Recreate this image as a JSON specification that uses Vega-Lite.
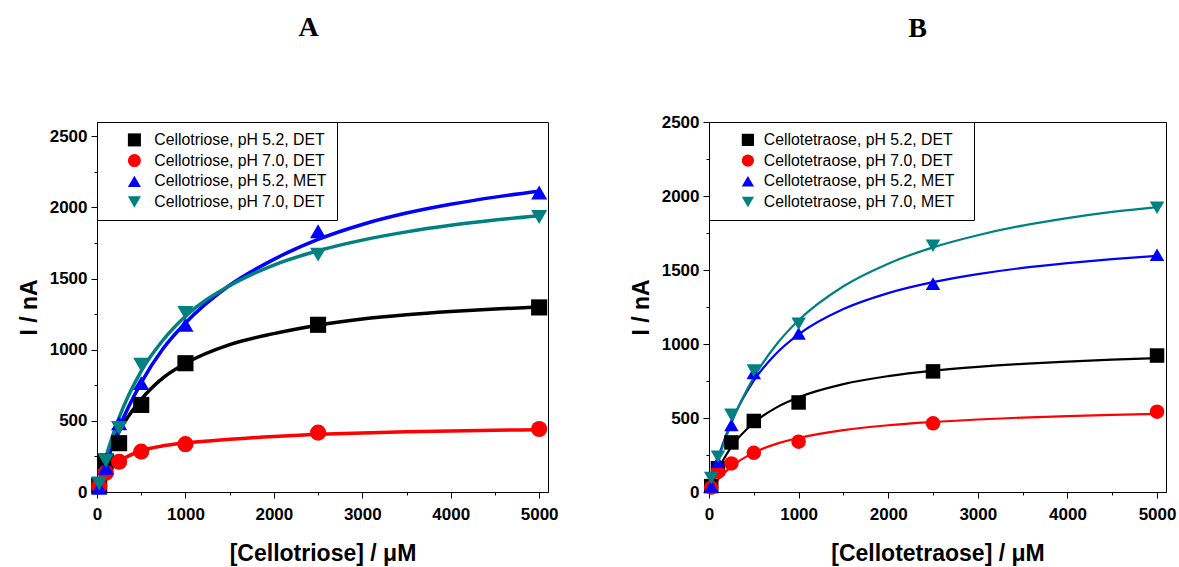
{
  "$schema": "https://vega.github.io/schema/vega-lite/v6.json",
  "background": "white",
  "autosize": {"type": "pad"},
  "padding": {"left": 17, "top": 13, "right": 5, "bottom": 5},
  "spacing": 70,
  "config": {
    "font": "Liberation Sans",
    "view": {"stroke": "black", "strokeWidth": 1},
    "axis": {
      "grid": false, "domainColor": "black", "domainWidth": 1, "tickColor": "black", "tickWidth": 1,
      "labelColor": "black", "labelFont": "Liberation Sans", "labelFontWeight": "bold", "labelFontSize": 17,
      "titleColor": "black", "titleFont": "Liberation Sans", "titleFontWeight": "bold", "titleFontSize": 23,
      "labelOverlap": false, "labelFlush": false
    },
    "title": {"font": "Liberation Serif", "fontSize": 28, "fontWeight": "bold", "color": "black", "anchor": "middle"}
  },
  "datasets": {
    "curveA": [
      {"c":0,"i":0,"s":"pH 5.2, DET"},{"c":50,"i":111,"s":"pH 5.2, DET"},{"c":100,"i":206,"s":"pH 5.2, DET"},{"c":250,"i":424,"s":"pH 5.2, DET"},{"c":500,"i":650,"s":"pH 5.2, DET"},{"c":750,"i":803,"s":"pH 5.2, DET"},{"c":1000,"i":903,"s":"pH 5.2, DET"},{"c":1500,"i":1035,"s":"pH 5.2, DET"},{"c":2000,"i":1113,"s":"pH 5.2, DET"},{"c":2500,"i":1172,"s":"pH 5.2, DET"},{"c":3000,"i":1215,"s":"pH 5.2, DET"},{"c":3500,"i":1245,"s":"pH 5.2, DET"},{"c":4000,"i":1268,"s":"pH 5.2, DET"},{"c":4500,"i":1286,"s":"pH 5.2, DET"},{"c":5000,"i":1300,"s":"pH 5.2, DET"},
      {"c":0,"i":0,"s":"pH 7.0, DET"},{"c":50,"i":75,"s":"pH 7.0, DET"},{"c":100,"i":135,"s":"pH 7.0, DET"},{"c":250,"i":215,"s":"pH 7.0, DET"},{"c":500,"i":290,"s":"pH 7.0, DET"},{"c":750,"i":325,"s":"pH 7.0, DET"},{"c":1000,"i":344,"s":"pH 7.0, DET"},{"c":1500,"i":370,"s":"pH 7.0, DET"},{"c":2000,"i":390,"s":"pH 7.0, DET"},{"c":2500,"i":405,"s":"pH 7.0, DET"},{"c":3000,"i":415,"s":"pH 7.0, DET"},{"c":3500,"i":423,"s":"pH 7.0, DET"},{"c":4000,"i":429,"s":"pH 7.0, DET"},{"c":4500,"i":434,"s":"pH 7.0, DET"},{"c":5000,"i":438,"s":"pH 7.0, DET"},
      {"c":0,"i":0,"s":"pH 5.2, MET"},{"c":50,"i":104,"s":"pH 5.2, MET"},{"c":100,"i":200,"s":"pH 5.2, MET"},{"c":250,"i":450,"s":"pH 5.2, MET"},{"c":500,"i":768,"s":"pH 5.2, MET"},{"c":750,"i":1010,"s":"pH 5.2, MET"},{"c":1000,"i":1188,"s":"pH 5.2, MET"},{"c":1500,"i":1453,"s":"pH 5.2, MET"},{"c":2000,"i":1635,"s":"pH 5.2, MET"},{"c":2500,"i":1775,"s":"pH 5.2, MET"},{"c":3000,"i":1880,"s":"pH 5.2, MET"},{"c":3500,"i":1960,"s":"pH 5.2, MET"},{"c":4000,"i":2022,"s":"pH 5.2, MET"},{"c":4500,"i":2072,"s":"pH 5.2, MET"},{"c":5000,"i":2113,"s":"pH 5.2, MET"},
      {"c":0,"i":0,"s":"pH 7.0, MET"},{"c":50,"i":128,"s":"pH 7.0, MET"},{"c":100,"i":243,"s":"pH 7.0, MET"},{"c":250,"i":523,"s":"pH 7.0, MET"},{"c":500,"i":850,"s":"pH 7.0, MET"},{"c":750,"i":1070,"s":"pH 7.0, MET"},{"c":1000,"i":1235,"s":"pH 7.0, MET"},{"c":1500,"i":1450,"s":"pH 7.0, MET"},{"c":2000,"i":1595,"s":"pH 7.0, MET"},{"c":2500,"i":1695,"s":"pH 7.0, MET"},{"c":3000,"i":1770,"s":"pH 7.0, MET"},{"c":3500,"i":1828,"s":"pH 7.0, MET"},{"c":4000,"i":1874,"s":"pH 7.0, MET"},{"c":4500,"i":1911,"s":"pH 7.0, MET"},{"c":5000,"i":1942,"s":"pH 7.0, MET"}
    ],
    "ptsA": [
      {"c":25,"i":45,"s":"pH 5.2, DET"},{"c":100,"i":215,"s":"pH 5.2, DET"},{"c":250,"i":343,"s":"pH 5.2, DET"},{"c":500,"i":612,"s":"pH 5.2, DET"},{"c":1000,"i":905,"s":"pH 5.2, DET"},{"c":2500,"i":1175,"s":"pH 5.2, DET"},{"c":5000,"i":1297,"s":"pH 5.2, DET"},
      {"c":25,"i":40,"s":"pH 7.0, DET"},{"c":100,"i":135,"s":"pH 7.0, DET"},{"c":250,"i":213,"s":"pH 7.0, DET"},{"c":500,"i":284,"s":"pH 7.0, DET"},{"c":1000,"i":336,"s":"pH 7.0, DET"},{"c":2500,"i":417,"s":"pH 7.0, DET"},{"c":5000,"i":443,"s":"pH 7.0, DET"},
      {"c":25,"i":30,"s":"pH 5.2, MET"},{"c":100,"i":170,"s":"pH 5.2, MET"},{"c":250,"i":483,"s":"pH 5.2, MET"},{"c":500,"i":765,"s":"pH 5.2, MET"},{"c":1000,"i":1175,"s":"pH 5.2, MET"},{"c":2500,"i":1832,"s":"pH 5.2, MET"},{"c":5000,"i":2104,"s":"pH 5.2, MET"},
      {"c":25,"i":60,"s":"pH 7.0, MET"},{"c":100,"i":220,"s":"pH 7.0, MET"},{"c":250,"i":450,"s":"pH 7.0, MET"},{"c":500,"i":894,"s":"pH 7.0, MET"},{"c":1000,"i":1258,"s":"pH 7.0, MET"},{"c":2500,"i":1668,"s":"pH 7.0, MET"},{"c":5000,"i":1933,"s":"pH 7.0, MET"}
    ],
    "curveB": [
      {"c":0,"i":0,"s":"pH 5.2, DET"},{"c":50,"i":81,"s":"pH 5.2, DET"},{"c":100,"i":149,"s":"pH 5.2, DET"},{"c":250,"i":305,"s":"pH 5.2, DET"},{"c":500,"i":468,"s":"pH 5.2, DET"},{"c":750,"i":570,"s":"pH 5.2, DET"},{"c":1000,"i":640,"s":"pH 5.2, DET"},{"c":1500,"i":729,"s":"pH 5.2, DET"},{"c":2000,"i":783,"s":"pH 5.2, DET"},{"c":2500,"i":820,"s":"pH 5.2, DET"},{"c":3000,"i":846,"s":"pH 5.2, DET"},{"c":3500,"i":866,"s":"pH 5.2, DET"},{"c":4000,"i":881,"s":"pH 5.2, DET"},{"c":4500,"i":894,"s":"pH 5.2, DET"},{"c":5000,"i":905,"s":"pH 5.2, DET"},
      {"c":0,"i":0,"s":"pH 7.0, DET"},{"c":50,"i":45,"s":"pH 7.0, DET"},{"c":100,"i":84,"s":"pH 7.0, DET"},{"c":250,"i":172,"s":"pH 7.0, DET"},{"c":500,"i":266,"s":"pH 7.0, DET"},{"c":750,"i":325,"s":"pH 7.0, DET"},{"c":1000,"i":365,"s":"pH 7.0, DET"},{"c":1500,"i":418,"s":"pH 7.0, DET"},{"c":2000,"i":451,"s":"pH 7.0, DET"},{"c":2500,"i":473,"s":"pH 7.0, DET"},{"c":3000,"i":490,"s":"pH 7.0, DET"},{"c":3500,"i":503,"s":"pH 7.0, DET"},{"c":4000,"i":513,"s":"pH 7.0, DET"},{"c":4500,"i":521,"s":"pH 7.0, DET"},{"c":5000,"i":528,"s":"pH 7.0, DET"},
      {"c":0,"i":0,"s":"pH 5.2, MET"},{"c":50,"i":120,"s":"pH 5.2, MET"},{"c":100,"i":225,"s":"pH 5.2, MET"},{"c":250,"i":474,"s":"pH 5.2, MET"},{"c":500,"i":752,"s":"pH 5.2, MET"},{"c":750,"i":936,"s":"pH 5.2, MET"},{"c":1000,"i":1065,"s":"pH 5.2, MET"},{"c":1500,"i":1236,"s":"pH 5.2, MET"},{"c":2000,"i":1344,"s":"pH 5.2, MET"},{"c":2500,"i":1418,"s":"pH 5.2, MET"},{"c":3000,"i":1472,"s":"pH 5.2, MET"},{"c":3500,"i":1514,"s":"pH 5.2, MET"},{"c":4000,"i":1546,"s":"pH 5.2, MET"},{"c":4500,"i":1573,"s":"pH 5.2, MET"},{"c":5000,"i":1595,"s":"pH 5.2, MET"},
      {"c":0,"i":0,"s":"pH 7.0, MET"},{"c":50,"i":111,"s":"pH 7.0, MET"},{"c":100,"i":212,"s":"pH 7.0, MET"},{"c":250,"i":466,"s":"pH 7.0, MET"},{"c":500,"i":775,"s":"pH 7.0, MET"},{"c":750,"i":995,"s":"pH 7.0, MET"},{"c":1000,"i":1160,"s":"pH 7.0, MET"},{"c":1500,"i":1390,"s":"pH 7.0, MET"},{"c":2000,"i":1543,"s":"pH 7.0, MET"},{"c":2500,"i":1653,"s":"pH 7.0, MET"},{"c":3000,"i":1735,"s":"pH 7.0, MET"},{"c":3500,"i":1800,"s":"pH 7.0, MET"},{"c":4000,"i":1851,"s":"pH 7.0, MET"},{"c":4500,"i":1893,"s":"pH 7.0, MET"},{"c":5000,"i":1925,"s":"pH 7.0, MET"}
    ],
    "ptsB": [
      {"c":25,"i":40,"s":"pH 5.2, DET"},{"c":100,"i":160,"s":"pH 5.2, DET"},{"c":250,"i":335,"s":"pH 5.2, DET"},{"c":500,"i":480,"s":"pH 5.2, DET"},{"c":1000,"i":605,"s":"pH 5.2, DET"},{"c":2500,"i":815,"s":"pH 5.2, DET"},{"c":5000,"i":922,"s":"pH 5.2, DET"},
      {"c":25,"i":30,"s":"pH 7.0, DET"},{"c":100,"i":136,"s":"pH 7.0, DET"},{"c":250,"i":193,"s":"pH 7.0, DET"},{"c":500,"i":265,"s":"pH 7.0, DET"},{"c":1000,"i":340,"s":"pH 7.0, DET"},{"c":2500,"i":464,"s":"pH 7.0, DET"},{"c":5000,"i":543,"s":"pH 7.0, DET"},
      {"c":25,"i":38,"s":"pH 5.2, MET"},{"c":100,"i":204,"s":"pH 5.2, MET"},{"c":250,"i":453,"s":"pH 5.2, MET"},{"c":500,"i":804,"s":"pH 5.2, MET"},{"c":1000,"i":1071,"s":"pH 5.2, MET"},{"c":2500,"i":1408,"s":"pH 5.2, MET"},{"c":5000,"i":1603,"s":"pH 5.2, MET"},
      {"c":25,"i":95,"s":"pH 7.0, MET"},{"c":100,"i":238,"s":"pH 7.0, MET"},{"c":250,"i":521,"s":"pH 7.0, MET"},{"c":500,"i":820,"s":"pH 7.0, MET"},{"c":1000,"i":1137,"s":"pH 7.0, MET"},{"c":2500,"i":1664,"s":"pH 7.0, MET"},{"c":5000,"i":1920,"s":"pH 7.0, MET"}
    ]
  },
  "resolve": {
    "scale": {"color": "independent", "shape": "independent", "stroke": "independent", "size": "independent"}
  },
  "hconcat": [
    {
      "width": 451, "height": 370,
      "title": {"text": "A", "offset": 80, "dx": -14},
      "encoding": {
        "x": {"field": "c", "type": "quantitative", "title": "[Cellotriose] / μM",
          "scale": {"domain": [0, 5100], "nice": false, "zero": false},
          "axis": {"values": [0,500,1000,1500,2000,2500,3000,3500,4000,4500,5000], "format": "d",
            "labelExpr": "datum.value % 1000 == 0 ? datum.label : ''",
            "tickSize": {"condition": {"test": "datum.value % 1000 == 0", "value": 6}, "value": 3},
            "labelPadding": 8, "titlePadding": 20}},
        "y": {"field": "i", "type": "quantitative", "title": "I / nA",
          "scale": {"domain": [0, 2600], "nice": false, "zero": false},
          "axis": {"values": [0,250,500,750,1000,1250,1500,1750,2000,2250,2500], "format": "d",
            "labelExpr": "datum.value % 500 == 0 ? datum.label : ''",
            "tickSize": {"condition": {"test": "datum.value % 500 == 0", "value": 6}, "value": 3},
            "labelPadding": 4, "titlePadding": 8}}
      },
      "layer": [
        {"data": {"name": "curveA"}, "mark": {"type": "line", "interpolate": "monotone", "strokeWidth": 3.5},
          "encoding": {"stroke": {"field": "s", "type": "nominal",
            "scale": {"domain": ["pH 7.0, MET","pH 5.2, MET","pH 7.0, DET","pH 5.2, DET"], "range": ["#008080","#0000FF","#FF0000","#000000"]},
            "legend": null}}},
        {"data": {"name": "ptsA"}, "mark": {"type": "point", "filled": true, "opacity": 1},
          "encoding": {
            "size": {"field": "s", "type": "nominal",
              "scale": {"domain": ["pH 5.2, MET","pH 7.0, MET","pH 5.2, DET","pH 7.0, DET"], "range": [260, 260, 200, 200]},
              "legend": null},
            "color": {"field": "s", "type": "nominal",
              "scale": {"domain": ["pH 5.2, DET","pH 7.0, DET","pH 5.2, MET","pH 7.0, MET"], "range": ["#000000","#FF0000","#0000FF","#008080"]},
              "legend": {"orient": "top-left", "offset": 0, "title": null,
                "strokeColor": "black", "fillColor": "white", "padding": 10,
                "labelFont": "Liberation Sans", "labelFontSize": 15.8, "labelColor": "black", "labelLimit": 400,
                "rowPadding": 3.7, "symbolStrokeWidth": 0, "symbolOffset": 19.5, "labelOffset": 12, "symbolSize": 170,
                "labelExpr": "datum.label == 'pH 7.0, MET' ? 'Cellotriose, pH 7.0, DET' : 'Cellotriose, ' + datum.label"}},
            "shape": {"field": "s", "type": "nominal",
              "scale": {"domain": ["pH 5.2, DET","pH 7.0, DET","pH 5.2, MET","pH 7.0, MET"], "range": ["square","circle","triangle-up","triangle-down"]}}
          }}
      ]
    },
    {
      "width": 457, "height": 370,
      "title": {"text": "B", "offset": 70, "dx": -20},
      "encoding": {
        "x": {"field": "c", "type": "quantitative", "title": "[Cellotetraose] / μM",
          "scale": {"domain": [0, 5100], "nice": false, "zero": false},
          "axis": {"values": [0,500,1000,1500,2000,2500,3000,3500,4000,4500,5000], "format": "d",
            "labelExpr": "datum.value % 1000 == 0 ? datum.label : ''",
            "tickSize": {"condition": {"test": "datum.value % 1000 == 0", "value": 6}, "value": 3},
            "labelPadding": 8, "titlePadding": 20}},
        "y": {"field": "i", "type": "quantitative", "title": "I / nA",
          "scale": {"domain": [0, 2500], "nice": false, "zero": false},
          "axis": {"values": [0,250,500,750,1000,1250,1500,1750,2000,2250,2500], "format": "d",
            "labelExpr": "datum.value % 500 == 0 ? datum.label : ''",
            "tickSize": {"condition": {"test": "datum.value % 500 == 0", "value": 6}, "value": 3},
            "labelPadding": 4, "titlePadding": 8}}
      },
      "layer": [
        {"data": {"name": "curveB"}, "mark": {"type": "line", "interpolate": "monotone", "strokeWidth": 2.2},
          "encoding": {"stroke": {"field": "s", "type": "nominal",
            "scale": {"domain": ["pH 7.0, MET","pH 5.2, MET","pH 7.0, DET","pH 5.2, DET"], "range": ["#008080","#0000FF","#FF0000","#000000"]},
            "legend": null}}},
        {"data": {"name": "ptsB"}, "mark": {"type": "point", "filled": true, "opacity": 1},
          "encoding": {
            "size": {"field": "s", "type": "nominal",
              "scale": {"domain": ["pH 5.2, MET","pH 7.0, MET","pH 5.2, DET","pH 7.0, DET"], "range": [210, 210, 160, 170]},
              "legend": null},
            "color": {"field": "s", "type": "nominal",
              "scale": {"domain": ["pH 5.2, DET","pH 7.0, DET","pH 5.2, MET","pH 7.0, MET"], "range": ["#000000","#FF0000","#0000FF","#008080"]},
              "legend": {"orient": "top-left", "offset": 0, "title": " ", "titleOrient": "right", "titleFontSize": 10, "titlePadding": 10,
                "strokeColor": "black", "fillColor": "white", "padding": 10,
                "labelFont": "Liberation Sans", "labelFontSize": 15.8, "labelColor": "black", "labelLimit": 400,
                "rowPadding": 3.7, "symbolStrokeWidth": 0, "symbolOffset": 21, "labelOffset": 8, "symbolSize": 150,
                "labelExpr": "'Cellotetraose, ' + datum.label"}},
            "shape": {"field": "s", "type": "nominal",
              "scale": {"domain": ["pH 5.2, DET","pH 7.0, DET","pH 5.2, MET","pH 7.0, MET"], "range": ["square","circle","triangle-up","triangle-down"]}}
          }}
      ]
    }
  ]
}
